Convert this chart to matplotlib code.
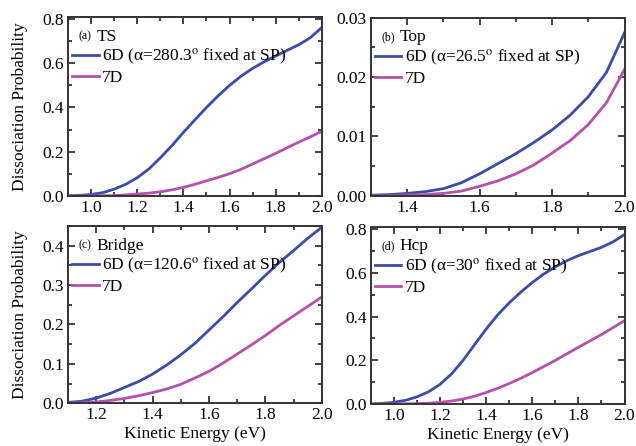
import matplotlib
matplotlib.use('Agg')
import matplotlib.pyplot as plt
from matplotlib.ticker import MultipleLocator, FormatStrFormatter

plt.rcParams['font.family'] = ['Liberation Serif', 'DejaVu Serif']
plt.rcParams['mathtext.fontset'] = 'stix'

BLUE = '#3a4ca6'
MAGENTA = '#b550ad'

# (a) TS
ts_x = [0.9, 0.95, 1.0, 1.05, 1.1, 1.15, 1.2, 1.25, 1.3, 1.35, 1.4, 1.45,
        1.5, 1.55, 1.6, 1.65, 1.7, 1.75, 1.8, 1.85, 1.9, 1.95, 2.0]
ts_6d = [0.0, 0.002, 0.006, 0.014, 0.03, 0.052, 0.082, 0.121, 0.172, 0.227, 0.287, 0.344,
         0.40, 0.452, 0.50, 0.542, 0.577, 0.607, 0.633, 0.659, 0.684, 0.716, 0.762]
ts_7d = [0.0, 0.0, 0.0, 0.0, 0.001, 0.004, 0.008, 0.012, 0.018, 0.027, 0.038, 0.052,
         0.068, 0.083, 0.10, 0.12, 0.144, 0.168, 0.192, 0.218, 0.243, 0.267, 0.292]

# (b) Top
top_x = [1.3, 1.35, 1.4, 1.45, 1.5, 1.55, 1.6, 1.65, 1.7, 1.75, 1.8, 1.85, 1.9, 1.95, 2.0]
top_6d = [0.0001, 0.0002, 0.0004, 0.0007, 0.0012, 0.0022, 0.0037, 0.0054, 0.0071, 0.009,
          0.0111, 0.0136, 0.0167, 0.0208, 0.0275]
top_7d = [0.0, 0.0, 0.0001, 0.0002, 0.0004, 0.0008, 0.0016, 0.0025, 0.0037, 0.0052,
          0.0072, 0.0093, 0.012, 0.0157, 0.0213]

# (c) Bridge
br_x = [1.1, 1.15, 1.2, 1.25, 1.3, 1.35, 1.4, 1.45, 1.5, 1.55, 1.6, 1.65, 1.7, 1.75,
        1.8, 1.85, 1.9, 1.95, 2.0]
br_6d = [0.002, 0.005, 0.013, 0.025, 0.040, 0.055, 0.074, 0.097, 0.123, 0.152, 0.186, 0.22,
         0.256, 0.29, 0.325, 0.358, 0.388, 0.419, 0.447]
br_7d = [0.0, 0.001, 0.003, 0.007, 0.012, 0.019, 0.027, 0.036, 0.048, 0.064, 0.081, 0.102,
         0.125, 0.148, 0.172, 0.198, 0.222, 0.246, 0.27]

# (d) Hcp
hcp_x = [0.9, 0.95, 1.0, 1.05, 1.1, 1.15, 1.2, 1.25, 1.3, 1.35, 1.4, 1.45,
         1.5, 1.55, 1.6, 1.65, 1.7, 1.75, 1.8, 1.85, 1.9, 1.95, 2.0]
hcp_6d = [0.0, 0.003, 0.008, 0.017, 0.033, 0.056, 0.09, 0.138, 0.2, 0.272, 0.343, 0.408,
          0.463, 0.512, 0.556, 0.595, 0.628, 0.656, 0.679, 0.698, 0.717, 0.742, 0.776]
hcp_7d = [0.0, 0.0, 0.0, 0.001, 0.002, 0.004, 0.008, 0.014, 0.023, 0.036, 0.053, 0.072,
          0.094, 0.118, 0.144, 0.172, 0.20, 0.23, 0.26, 0.289, 0.318, 0.35, 0.382]

panels = [
    dict(tag='(a)', name='TS', x=ts_x, y6=ts_6d, y7=ts_7d,
         lab6='6D (α=280.3$^{\\mathrm{o}}$ fixed at SP)',
         xlim=(0.9, 2.0), ylim=(0, 0.81), ymaj=0.2, ymin=0.1, yfmt='%.1f',
         rect=[0.107, 0.561, 0.399, 0.401]),
    dict(tag='(b)', name='Top', x=top_x, y6=top_6d, y7=top_7d,
         lab6='6D (α=26.5$^{\\mathrm{o}}$ fixed at SP)',
         xlim=(1.3, 2.0), ylim=(0, 0.03), ymaj=0.01, ymin=0.005, yfmt='%.2f',
         rect=[0.583, 0.561, 0.399, 0.399]),
    dict(tag='(c)', name='Bridge', x=br_x, y6=br_6d, y7=br_7d,
         lab6='6D (α=120.6$^{\\mathrm{o}}$ fixed at SP)',
         xlim=(1.1, 2.0), ylim=(0, 0.45), ymaj=0.1, ymin=0.05, yfmt='%.1f',
         rect=[0.107, 0.096, 0.399, 0.397]),
    dict(tag='(d)', name='Hcp', x=hcp_x, y6=hcp_6d, y7=hcp_7d,
         lab6='6D (α=30$^{\\mathrm{o}}$ fixed at SP)',
         xlim=(0.9, 2.0), ylim=(0, 0.81), ymaj=0.2, ymin=0.1, yfmt='%.1f',
         rect=[0.583, 0.094, 0.399, 0.397]),
]

fig = plt.figure(figsize=(6.36, 4.46), dpi=100)

for i, p in enumerate(panels):
    ax = fig.add_axes(p['rect'])
    ax.plot(p['x'], p['y6'], color=BLUE, lw=2, label=p['lab6'])
    ax.plot(p['x'], p['y7'], color=MAGENTA, lw=2, label='7D')
    ax.set_xlim(*p['xlim'])
    ax.set_ylim(*p['ylim'])
    ax.xaxis.set_major_locator(MultipleLocator(0.2))
    ax.xaxis.set_minor_locator(MultipleLocator(0.1))
    ax.yaxis.set_major_locator(MultipleLocator(p['ymaj']))
    ax.yaxis.set_minor_locator(MultipleLocator(p['ymin']))
    ax.xaxis.set_major_formatter(FormatStrFormatter('%.1f'))
    ax.yaxis.set_major_formatter(FormatStrFormatter(p['yfmt']))
    ax.tick_params(which='both', direction='in', top=True, right=True,
                   width=1.3, color='#333333', labelsize=12.5, pad=3)
    ax.tick_params(which='major', length=5)
    ax.tick_params(which='minor', length=3)
    for s in ax.spines.values():
        s.set_linewidth(1.4)
        s.set_color('#333333')

    # panel tag + site name (the tag is set smaller)
    ax.text(0.043, 0.89, p['tag'], transform=ax.transAxes, fontsize=8.5, va='center')
    ax.text(0.112, 0.89, p['name'], transform=ax.transAxes, fontsize=12.5, va='center')
    ax.legend(loc='upper left', bbox_to_anchor=(-0.01, 0.87), frameon=False,
              fontsize=12.5, handlelength=1.5, handletextpad=0.2,
              labelspacing=0.15, borderaxespad=0.2, borderpad=0.2)

    if i % 2 == 0:
        ax.set_ylabel('Dissociation Probability', fontsize=12.5, labelpad=10)
    if i >= 2:
        ax.set_xlabel('Kinetic Energy (eV)', fontsize=12.5, labelpad=2)

fig.savefig('out.png', dpi=100)
